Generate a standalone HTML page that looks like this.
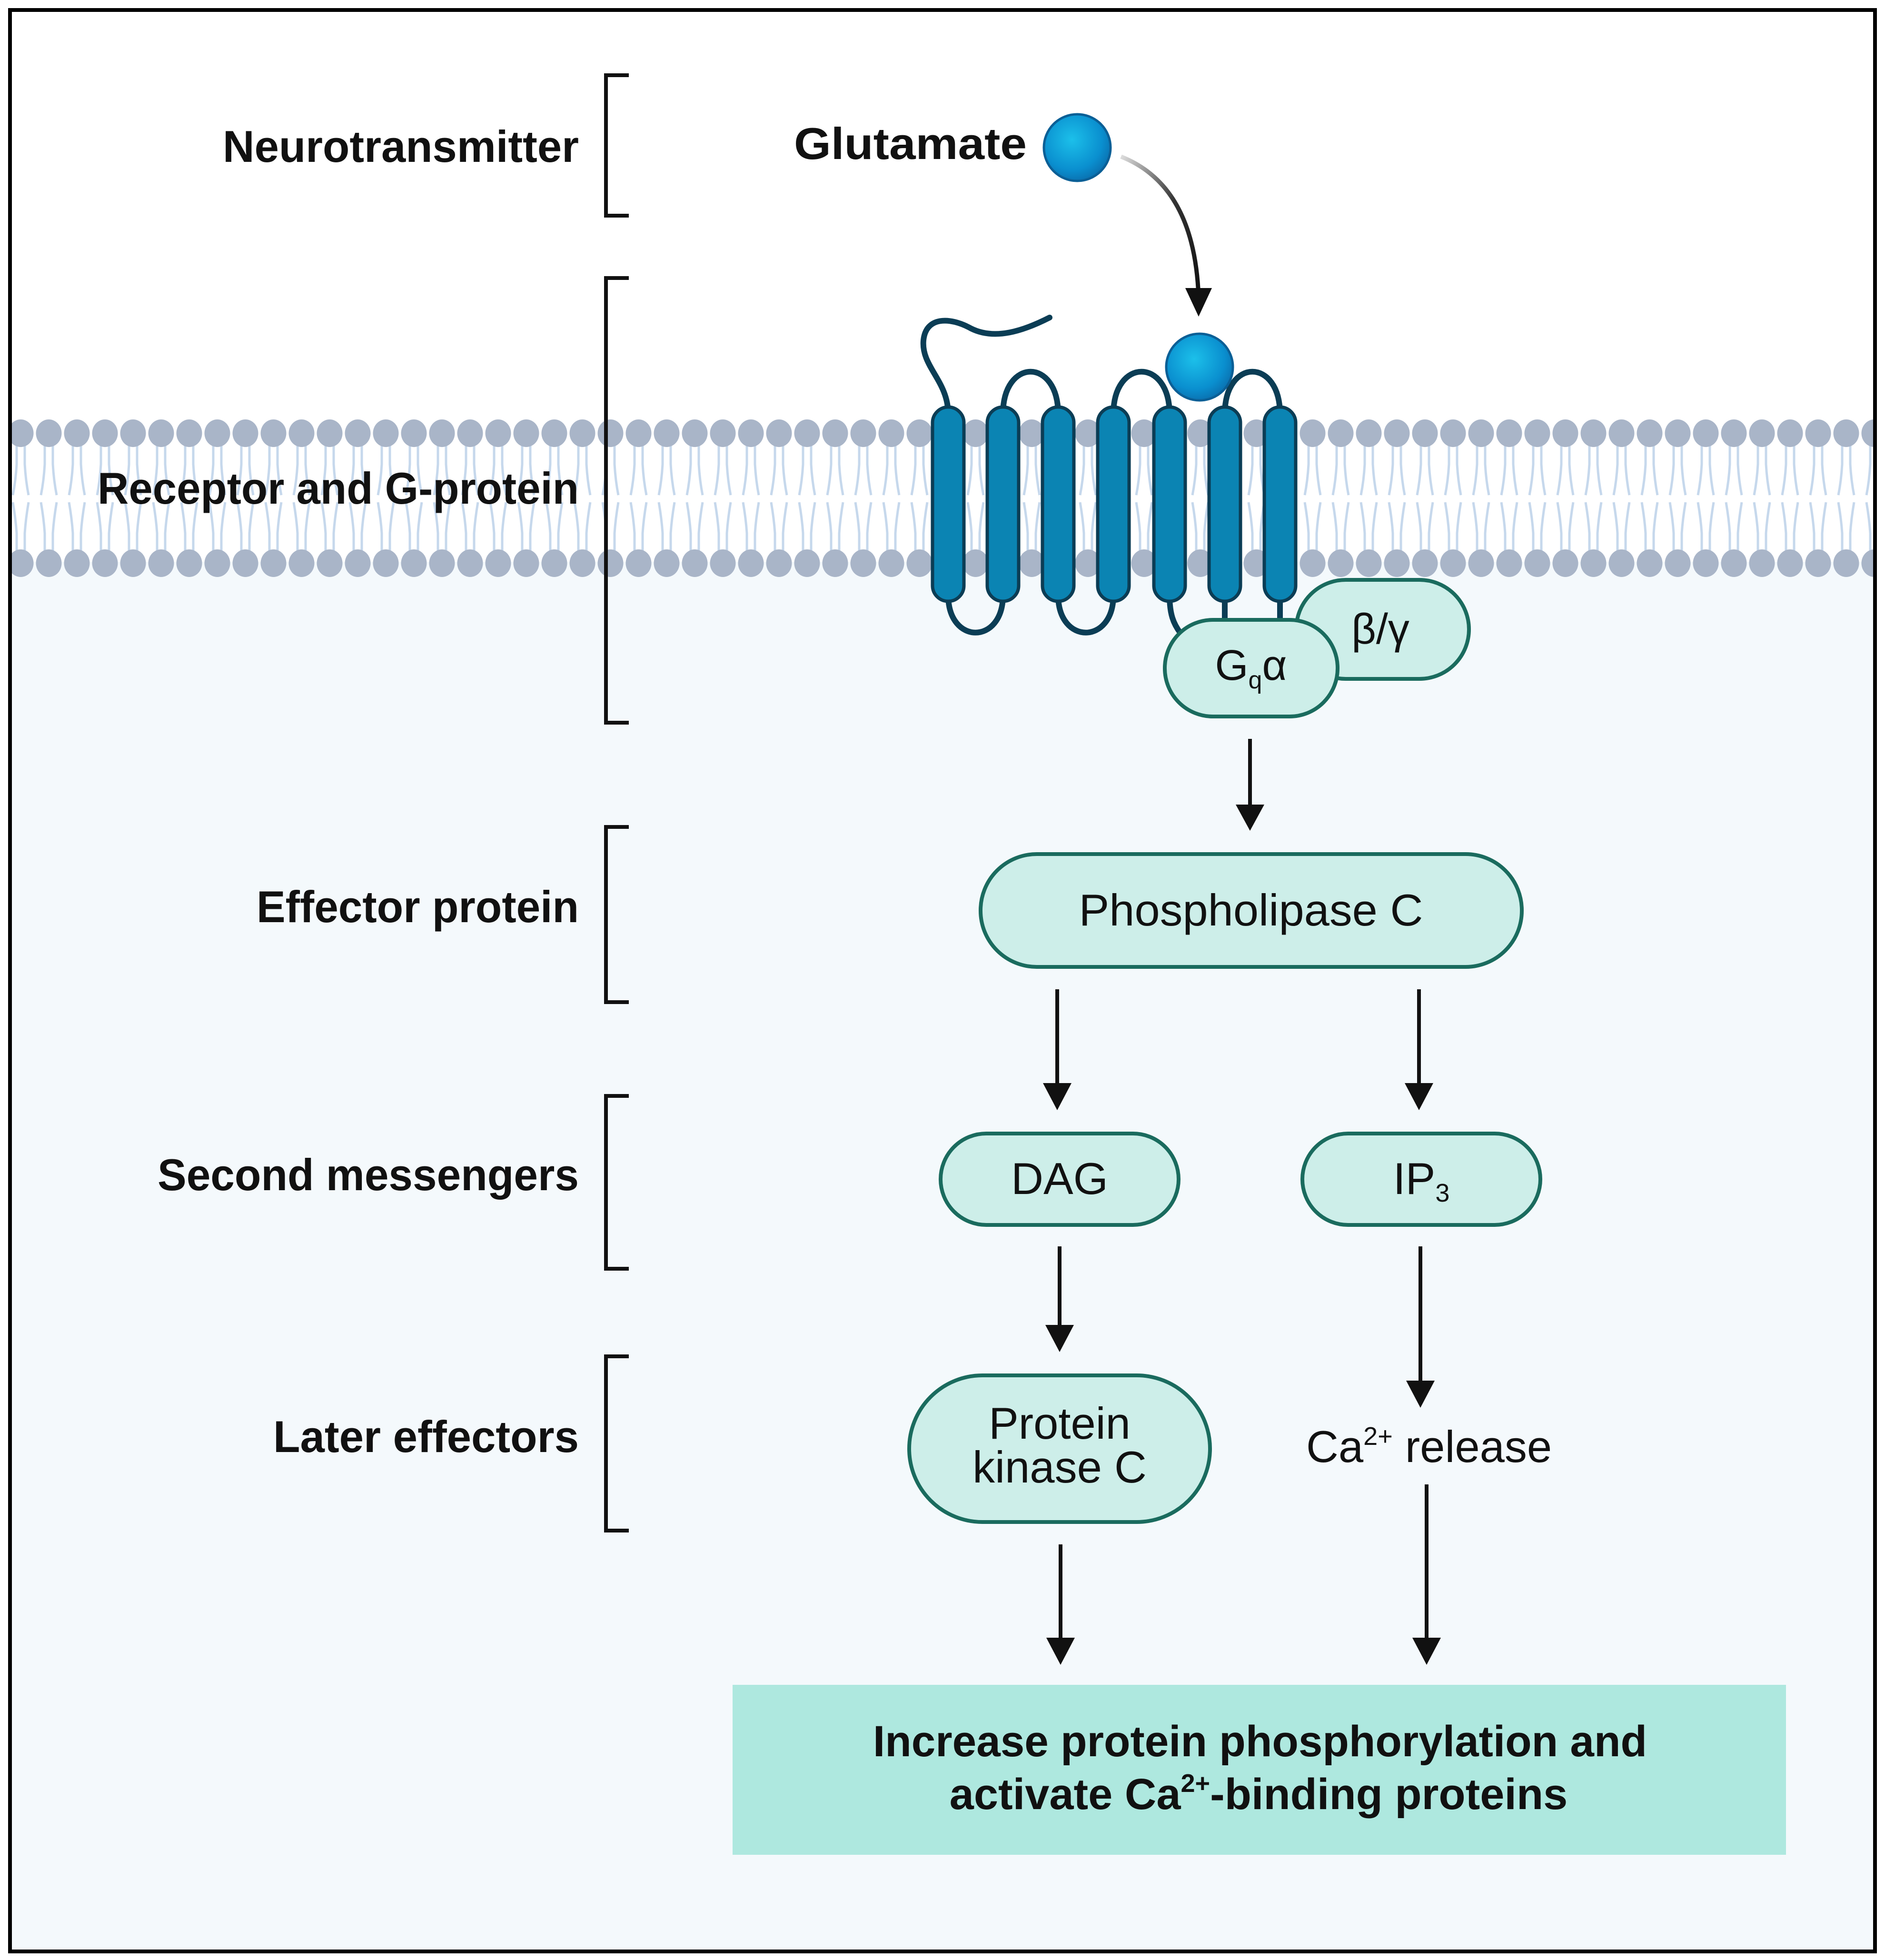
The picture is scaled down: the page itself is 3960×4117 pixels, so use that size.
<!DOCTYPE html>
<html><head><meta charset="utf-8"><style>
html,body{margin:0;padding:0;background:#fff;}
svg{display:block;}
text{font-family:"Liberation Sans",Arial,sans-serif;}
</style></head><body>
<svg width="3960" height="4117" viewBox="0 0 3960 4117" xmlns="http://www.w3.org/2000/svg">
<defs>
<pattern id="lip" x="14" y="0" width="59" height="4117" patternUnits="userSpaceOnUse">
<g stroke="#c6d8ec" stroke-width="5" fill="none">
<path d="M21,935 L21,975 Q19,1010 13,1040"/><path d="M38,935 L38,975 Q40,1010 46,1040"/>
<path d="M13,1055 Q19,1090 21,1120 L21,1160"/><path d="M46,1055 Q40,1090 38,1120 L38,1160"/>
</g>
<ellipse cx="29.5" cy="910" rx="27" ry="29" fill="#a9b5c8"/>
<ellipse cx="29.5" cy="1183" rx="27" ry="29" fill="#a9b5c8"/>
</pattern>
<linearGradient id="ag" x1="0" y1="0" x2="1" y2="1">
<stop offset="0" stop-color="#ddd"/><stop offset="0.5" stop-color="#333"/><stop offset="1" stop-color="#111"/>
</linearGradient>
<radialGradient id="ball" cx="0.42" cy="0.38" r="0.65">
<stop offset="0" stop-color="#1cc0ea"/><stop offset="0.7" stop-color="#0a8fcf"/><stop offset="1" stop-color="#0a6fae"/>
</radialGradient>
</defs>

<rect x="0" y="0" width="3960" height="4117" fill="#fff"/>
<rect x="21" y="1180" width="3918" height="2919" fill="#f4f9fc"/>
<rect x="21" y="870" width="3918" height="345" fill="url(#lip)"/>
<rect x="21" y="21" width="3918" height="4078" fill="none" stroke="#000" stroke-width="8"/>

<g font-weight="bold" font-size="94" fill="#111" text-anchor="end">
<text x="1216" y="340" textLength="748" lengthAdjust="spacingAndGlyphs">Neurotransmitter</text>
<text x="1216" y="1058" textLength="1011" lengthAdjust="spacingAndGlyphs">Receptor and G-protein</text>
<text x="1216" y="1937" textLength="677" lengthAdjust="spacingAndGlyphs">Effector protein</text>
<text x="1216" y="2500" textLength="885" lengthAdjust="spacingAndGlyphs">Second messengers</text>
<text x="1216" y="3050" textLength="642" lengthAdjust="spacingAndGlyphs">Later effectors</text>
</g>
<g fill="none" stroke="#111" stroke-width="8">
<path d="M1321,158 H1273 V453 H1321"/>
<path d="M1321,584 H1273 V1518 H1321"/>
<path d="M1321,1737 H1273 V2105 H1321"/>
<path d="M1321,2302 H1273 V2665 H1321"/>
<path d="M1321,2849 H1273 V3215 H1321"/>
</g>

<text x="1668" y="334" font-weight="bold" font-size="94" fill="#111" textLength="489" lengthAdjust="spacingAndGlyphs">Glutamate</text>
<circle cx="2263" cy="310" r="70" fill="url(#ball)" stroke="#0a5f96" stroke-width="5"/>
<path d="M2355,329 Q2510,390 2518,625" fill="none" stroke="url(#ag)" stroke-width="9"/>
<polygon points="2490,605 2546,605 2518,665" fill="#111"/>

<g fill="none" stroke="#0b3d55" stroke-width="12" stroke-linecap="round">
<path d="M1992,870 C1992,800 1935,770 1940,715 C1945,665 1995,665 2040,690 C2090,715 2150,695 2205,667"/>
<path d="M2107,870 C2107,751 2223,751 2223,870"/>
<path d="M2339,870 C2339,751 2457,751 2457,870"/>
<path d="M2573,870 C2573,751 2689,751 2689,870"/>
<path d="M1992,1250 C1992,1355 2107,1355 2107,1250"/>
<path d="M2223,1250 C2223,1355 2339,1355 2339,1250"/>
<path d="M2457,1250 C2457,1290 2465,1310 2480,1330"/>
<path d="M2573,1250 L2573,1310"/>
<path d="M2689,1250 L2689,1310"/>
</g>
<g fill="#0b84b3" stroke="#0b3d55" stroke-width="7">
<rect x="1959" y="855" width="66" height="408" rx="33"/>
<rect x="2074" y="855" width="66" height="408" rx="33"/>
<rect x="2190" y="855" width="66" height="408" rx="33"/>
<rect x="2306" y="855" width="66" height="408" rx="33"/>
<rect x="2424" y="855" width="66" height="408" rx="33"/>
<rect x="2540" y="855" width="66" height="408" rx="33"/>
<rect x="2656" y="855" width="66" height="408" rx="33"/>
</g>
<circle cx="2520" cy="771" r="70" fill="url(#ball)" stroke="#0a5f96" stroke-width="5"/>

<g fill="#cdeee9" stroke="#1a6b5e" stroke-width="8">
<rect x="2723" y="1218" width="363" height="208" rx="104"/>
<rect x="2447" y="1302" width="363" height="203" rx="101"/>
</g>
<text x="2900" y="1352" font-size="90" fill="#111" text-anchor="middle">β/γ</text>
<text x="2628" y="1428" font-size="90" fill="#111" text-anchor="middle">G<tspan font-size="52" dy="18">q</tspan><tspan dy="-18">α</tspan></text>

<g stroke="#111" stroke-width="8">
<line x1="2626" y1="1552" x2="2626" y2="1700"/>
<line x1="2221" y1="2078" x2="2221" y2="2285"/>
<line x1="2981" y1="2078" x2="2981" y2="2285"/>
<line x1="2226" y1="2618" x2="2226" y2="2793"/>
<line x1="2984" y1="2618" x2="2984" y2="2910"/>
<line x1="2228" y1="3244" x2="2228" y2="3450"/>
<line x1="2997" y1="3118" x2="2997" y2="3450"/>
</g>
<g fill="#111">
<polygon points="2596,1690 2656,1690 2626,1745"/>
<polygon points="2191,2275 2251,2275 2221,2332"/>
<polygon points="2951,2275 3011,2275 2981,2332"/>
<polygon points="2196,2783 2256,2783 2226,2840"/>
<polygon points="2954,2900 3014,2900 2984,2957"/>
<polygon points="2198,3440 2258,3440 2228,3497"/>
<polygon points="2967,3440 3027,3440 2997,3497"/>
</g>

<g fill="#cdeee9" stroke="#1a6b5e" stroke-width="8">
<rect x="2060" y="1794" width="1137" height="237" rx="118"/>
<rect x="1976" y="2381" width="500" height="192" rx="96"/>
<rect x="2736" y="2381" width="500" height="192" rx="96"/>
<rect x="1910" y="2889" width="632" height="308" rx="154"/>
</g>
<g font-size="94" fill="#111" text-anchor="middle">
<text x="2628" y="1944" textLength="723" lengthAdjust="spacingAndGlyphs">Phospholipase C</text>
<text x="2226" y="2508">DAG</text>
<text x="2986" y="2508">IP<tspan font-size="54" dy="16">3</tspan></text>
<text x="2226" y="3022">Protein</text>
<text x="2226" y="3114">kinase C</text>
</g>
<text x="2744" y="3071" font-size="94" fill="#111">Ca<tspan font-size="54" dy="-36">2+</tspan><tspan dy="36"> release</tspan></text>

<rect x="1539" y="3539" width="2213" height="357" fill="#aee8df"/>
<g font-weight="bold" font-size="92" fill="#111" text-anchor="middle">
<text x="2647" y="3689" textLength="1626" lengthAdjust="spacingAndGlyphs">Increase protein phosphorylation and</text>
<text x="2644" y="3800">activate Ca<tspan font-size="54" dy="-36">2+</tspan><tspan dy="36">-binding proteins</tspan></text>
</g>
</svg>
</body></html>
